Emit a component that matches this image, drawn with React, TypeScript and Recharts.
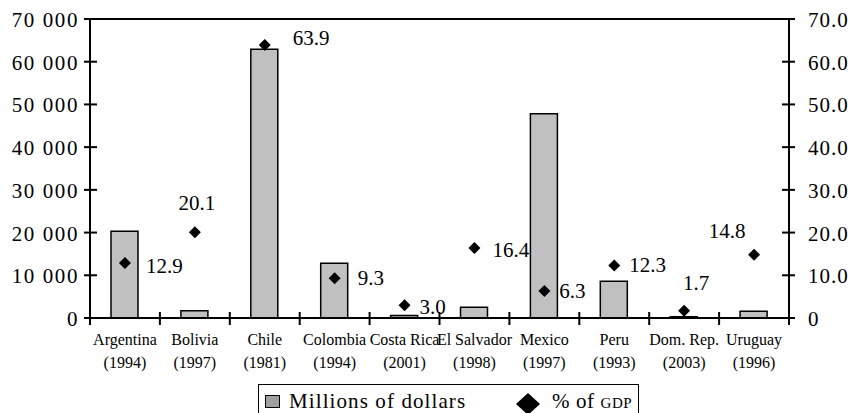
import { ComposedChart, Bar, Scatter, XAxis, YAxis, ReferenceLine } from "recharts";

const countries = ["Argentina", "Bolivia", "Chile", "Colombia", "Costa Rica", "El Salvador", "Mexico", "Peru", "Dom. Rep.", "Uruguay"];
const years = ["1994", "1997", "1981", "1994", "2001", "1998", "1997", "1993", "2003", "1996"];
const millions = [20300, 1700, 62900, 12800, 600, 2500, 47800, 8600, 300, 1600];
const gdpShare = [12.9, 20.1, 63.9, 9.3, 3.0, 16.4, 6.3, 12.3, 1.7, 14.8];
const leftTicks = [0, 10000, 20000, 30000, 40000, 50000, 60000, 70000];
const rightTicks = [0, 10, 20, 30, 40, 50, 60, 70];

// where each % label sits relative to its diamond: dx, dy, anchor
const labelPos: [number, number, string][] = [
  [21, 10, "start"],
  [2, -22, "middle"],
  [28, 0, "start"],
  [23, 7, "start"],
  [15, 9, "start"],
  [18, 9, "start"],
  [15, 7, "start"],
  [15, 7, "start"],
  [12, -21, "middle"],
  [-27, -17, "middle"],
];

const data = countries.map((c, i) => ({ name: c, year: years[i], millions: millions[i], gdp: gdpShare[i], idx: i }));

const FONT = "'Times New Roman', 'Liberation Serif', serif";
const CAT_W = (852 - 90 - 63) / countries.length;

const CatTick = (props: any) => {
  const { x, y, payload, index } = props;
  const i = countries.indexOf(payload.value);
  return (
    <g>
      <line x1={x - CAT_W / 2} x2={x - CAT_W / 2} y1={y - 6} y2={y + 7} stroke="#000" strokeWidth={2} />
      {index === countries.length - 1 || i === countries.length - 1 ? (
        <line x1={x + CAT_W / 2} x2={x + CAT_W / 2} y1={y - 6} y2={y + 7} stroke="#000" strokeWidth={2} />
      ) : null}
      <text x={x} y={y + 27} textAnchor="middle" fontFamily={FONT} fontSize={16} fill="#000">
        {payload.value}
      </text>
      <text x={x} y={y + 50} textAnchor="middle" fontFamily={FONT} fontSize={16} fill="#000">
        ({years[i]})
      </text>
    </g>
  );
};

const LeftTick = (props: any) => {
  const { x, y, payload } = props;
  const v: number = payload.value;
  const label = v === 0 ? "0" : `${Math.floor(v / 1000)} 000`;
  return (
    <g>
      <line x1={x - 6} x2={x + 7} y1={y} y2={y} stroke="#000" strokeWidth={2} />
      <text x={x - 11} y={y + 8} textAnchor="end" fontFamily={FONT} fontSize={21} letterSpacing={1.6} fill="#000">
        {label}
      </text>
    </g>
  );
};

const RightTick = (props: any) => {
  const { x, y, payload } = props;
  const v: number = payload.value;
  const label = v === 0 ? "0" : v.toFixed(1);
  return (
    <g>
      <line x1={x - 7} x2={x + 6} y1={y} y2={y} stroke="#000" strokeWidth={2} />
      <text x={x + 19} y={y + 8} textAnchor="start" fontFamily={FONT} fontSize={21} letterSpacing={1} fill="#000">
        {label}
      </text>
    </g>
  );
};

const Diamond = (props: any) => {
  const { cx, cy, payload } = props;
  const [dx, dy, anchor] = labelPos[payload.idx];
  const r = 6;
  return (
    <g>
      <polygon points={`${cx},${cy - r} ${cx + r},${cy} ${cx},${cy + r} ${cx - r},${cy}`} fill="#000" />
      <text x={cx + dx} y={cy + dy} textAnchor={anchor as any} fontFamily={FONT} fontSize={21} fill="#000">
        {payload.gdp.toFixed(1)}
      </text>
    </g>
  );
};

export default function App() {
  return (
    <div style={{ position: "absolute", left: 0, top: 0, width: 852, height: 413, background: "#fff", overflow: "hidden" }}>
      <ComposedChart width={852} height={413} data={data} margin={{ top: 19, right: 0, left: 0, bottom: 0 }}>
        <XAxis
          dataKey="name"
          xAxisId="cat"
          height={95}
          interval={0}
          tickSize={0}
          tickMargin={0}
          tickLine={false}
          axisLine={{ stroke: "#000", strokeWidth: 2 }}
          tick={<CatTick />}
        />
        <YAxis
          yAxisId="left"
          width={90}
          domain={[0, 70000]}
          ticks={leftTicks}
          interval={0}
          tickSize={0}
          tickMargin={0}
          tickLine={false}
          axisLine={{ stroke: "#000", strokeWidth: 2 }}
          tick={<LeftTick />}
        />
        <YAxis
          yAxisId="right"
          orientation="right"
          width={63}
          domain={[0, 70]}
          ticks={rightTicks}
          interval={0}
          tickSize={0}
          tickMargin={0}
          tickLine={false}
          axisLine={{ stroke: "#000", strokeWidth: 2 }}
          tick={<RightTick />}
        />
        <ReferenceLine yAxisId="left" xAxisId="cat" y={70000} stroke="#000" strokeWidth={2} ifOverflow="visible" />
        <Bar
          dataKey="millions"
          xAxisId="cat"
          yAxisId="left"
          barSize={27}
          fill="#c0c0c0"
          stroke="#000"
          strokeWidth={1.5}
          isAnimationActive={false}
        />
        <Scatter dataKey="gdp" xAxisId="cat" yAxisId="right" shape={<Diamond />} isAnimationActive={false} />
      </ComposedChart>
      <div
        style={{
          position: "absolute",
          left: 258,
          top: 384,
          width: 381,
          height: 40,
          border: "1.5px solid #000",
          boxSizing: "border-box",
          fontFamily: FONT,
          fontSize: 21,
          color: "#000",
        }}
      >
        <div style={{ position: "absolute", left: 6, top: 10, width: 13, height: 11, background: "#a0a0a0", border: "1.5px solid #000" }} />
        <div style={{ position: "absolute", left: 30, top: 4, lineHeight: "24px", whiteSpace: "nowrap", letterSpacing: 1.1 }}>
          Millions of dollars
        </div>
        <svg style={{ position: "absolute", left: 257, top: 8 }} width={24} height={22}>
          <polygon points="12,0 24,11 12,22 0,11" fill="#000" />
        </svg>
        <div style={{ position: "absolute", left: 293, top: 4, lineHeight: "24px", whiteSpace: "nowrap", letterSpacing: 0.6 }}>
          % of <span style={{ fontVariant: "small-caps" }}>gdp</span>
        </div>
      </div>
    </div>
  );
}
